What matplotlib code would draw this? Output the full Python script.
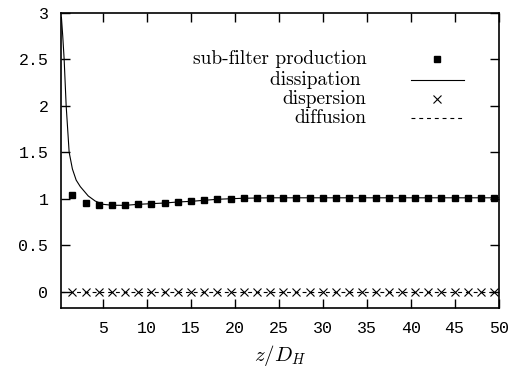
import numpy as np
import matplotlib
matplotlib.use('Agg')
import matplotlib.pyplot as plt
from matplotlib.lines import Line2D

# sub-filter production (squares) and dispersion (crosses) share the x grid
z_pts = np.arange(1.5, 50.0, 1.5)
production = [1.044, 0.958, 0.937, 0.929, 0.929, 0.94, 0.947, 0.954, 0.965, 0.972,
              0.983, 0.994, 1.0, 1.005, 1.008, 1.01, 1.01, 1.01, 1.01, 1.01,
              1.01, 1.01, 1.01, 1.01, 1.01, 1.01, 1.01, 1.01, 1.01, 1.01,
              1.01, 1.01, 1.01]
dispersion = [0.0] * len(z_pts)

# dissipation curve
z_diss = [0.25, 0.4, 0.56, 0.79, 1.13, 1.5, 1.93, 2.4, 2.76, 3.3, 4.1, 5.0, 6.0,
          7.5, 9.0, 10.5, 12.0, 13.5, 15.0, 16.5, 18.0, 19.5, 21.0, 22.5, 24.0,
          27.0, 30.0, 35.0, 40.0, 45.0, 50.0]
dissipation = [2.95, 2.75, 2.5, 2.0, 1.5, 1.32, 1.2, 1.13, 1.09, 1.03, 0.975, 0.94, 0.93,
               0.929, 0.94, 0.947, 0.954, 0.965, 0.972, 0.983, 0.994, 1.0, 1.005,
               1.008, 1.01, 1.01, 1.01, 1.01, 1.01, 1.01, 1.01]

# diffusion
z_diff = [0.2, 50.0]
diffusion = [0.0, 0.0]

xticks = [5, 10, 15, 20, 25, 30, 35, 40, 45, 50]
yticks = [0, 0.5, 1, 1.5, 2, 2.5, 3]
ytick_labels = ['0', '0.5', '1', '1.5', '2', '2.5', '3']

plt.rcParams['mathtext.fontset'] = 'cm'
plt.rcParams['axes.formatter.use_mathtext'] = True

fig = plt.figure(figsize=(5.15, 3.72), dpi=100)
ax = fig.add_axes([0.1184, 0.1707, 0.8496, 0.7952])

ax.plot(z_diss, dissipation, color='black', lw=0.8)
ax.plot(z_pts, production, ls='none', marker='s', ms=5, color='black')
ax.plot(z_pts, dispersion, ls='none', marker='x', ms=6, mew=0.8, color='black')
ax.plot(z_diff, diffusion, color='black', lw=0.8, dashes=(3.5, 3.5))

ax.set_xlim(0.2, 50)
ax.set_ylim(-0.18, 3)
ax.set_xticks(xticks)
ax.set_xticklabels([str(t) for t in xticks])
ax.set_yticks(yticks)
ax.set_yticklabels(ytick_labels)
ax.tick_params(direction='in', length=6.5, width=1.0, top=True, right=True,
               labelsize=12, pad=9)
for lab in ax.get_xticklabels() + ax.get_yticklabels():
    lab.set_family('Liberation Mono')
for sp in ax.spines.values():
    sp.set_linewidth(1.2)

ax.set_xlabel(r'$z/D_H$', fontsize=15, labelpad=5)

# gnuplot-style key: right-aligned text, sample on the right
names = ['sub-filter production', 'dissipation ', 'dispersion', 'diffusion']
rows_y = [0.8425, 0.7725, 0.7072, 0.643]
for name, yy in zip(names, rows_y):
    ax.text(0.6987, yy, name, transform=ax.transAxes, ha='right', va='center',
            family='cmr10', fontsize=14)
samples = [dict(ls='none', marker='s', ms=5),
           dict(ls='-', lw=0.8),
           dict(ls='none', marker='x', ms=6, mew=0.8),
           dict(ls='-', lw=0.8, dashes=(3.5, 3.5))]
for kw, yy in zip(samples, rows_y):
    if kw.get('ls') == 'none':
        ax.add_line(Line2D([0.860], [yy], transform=ax.transAxes, color='black', **kw))
    else:
        ax.add_line(Line2D([0.7993, 0.9218], [yy, yy], transform=ax.transAxes,
                           color='black', **kw))

fig.savefig('out.png', dpi=100)
